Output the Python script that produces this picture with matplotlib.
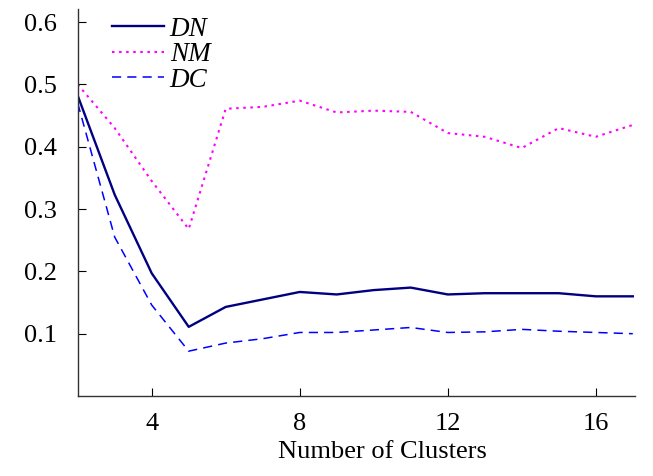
import matplotlib
matplotlib.use("Agg")
import matplotlib.pyplot as plt

# cluster counts and the three curves
clusters = list(range(2, 18))
dn = [0.482, 0.323, 0.197, 0.111, 0.143, 0.155, 0.167, 0.163, 0.170, 0.174,
      0.163, 0.165, 0.165, 0.165, 0.160, 0.160]
nm = [0.500, 0.430, 0.345, 0.268, 0.461, 0.464, 0.474, 0.455, 0.458, 0.456,
      0.422, 0.416, 0.398, 0.430, 0.416, 0.435]
dc = [0.470, 0.255, 0.146, 0.072, 0.085, 0.092, 0.102, 0.102, 0.106, 0.110,
      0.102, 0.103, 0.107, 0.104, 0.102, 0.100]

xticks = [4, 8, 12, 16]
yticks = [0.1, 0.2, 0.3, 0.4, 0.5, 0.6]

plt.rcParams['font.family'] = ['Liberation Serif', 'DejaVu Serif']

fig = plt.figure(figsize=(6.53, 4.76), dpi=100)
ax = fig.add_axes([0.119, 0.168, 0.854, 0.813])

ax.plot(clusters, dn, color='#000080', lw=1.7, ls='-', label='DN')
ax.plot(clusters, nm, color='#ff00ff', lw=1.5, ls=(0, (1.2, 2.2)), label='NM')
ax.plot(clusters, dc, color='#0000ff', lw=1.1, ls=(0, (6, 4)), label='DC')

ax.set_xlim(2, 17.07)
ax.set_ylim(0, 0.621)
ax.set_xticks(xticks)
ax.set_yticks(yticks)
ax.set_yticklabels(['%.1f' % v for v in yticks])
ax.tick_params(direction='in', length=6, width=0.8, labelsize=19)
ax.tick_params(axis='x', pad=12)
ax.tick_params(axis='y', pad=15)
ax.spines['top'].set_visible(False)
ax.spines['right'].set_visible(False)
for s in ('left', 'bottom'):
    ax.spines[s].set_linewidth(1.0)
    ax.spines[s].set_color('#333333')

ax.set_xlabel('Number of Clusters', fontsize=19, labelpad=8)
ax.xaxis.set_label_coords(0.546, -0.115)

leg = ax.legend(loc='upper left', bbox_to_anchor=(0.017, 1.043), frameon=False,
                prop={'style': 'italic', 'size': 19.5}, handlelength=1.93,
                handletextpad=0.22, labelspacing=0.02)

fig.savefig('out.png', dpi=100)
